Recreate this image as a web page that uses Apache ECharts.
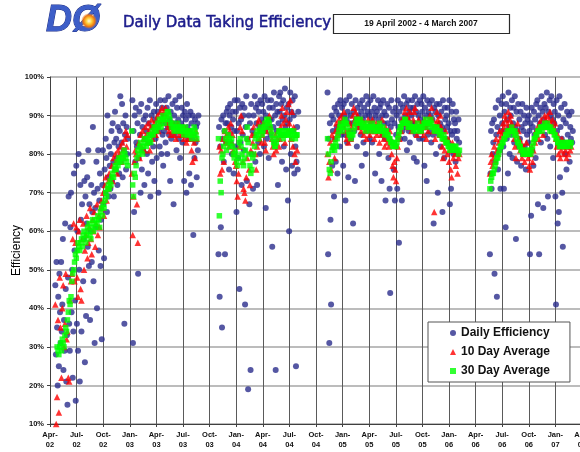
<!DOCTYPE html>
<html>
<head>
<meta charset="utf-8">
<script src="https://cdn.jsdelivr.net/npm/echarts@6/dist/echarts.min.js"></script>
<style>
html, body { margin: 0; padding: 0; background: #fff; }
#chart { width: 580px; height: 452px; }
</style>
</head>
<body>
<div id="chart"></div>
<script>
// Each run is stored as its first day plus samples taken every DAILY_STEP
// (daily efficiency) or AVG_STEP (running averages) days. null = no beam.
const DAILY_STEP = 2;
const AVG_STEP = 3;

const tickLabels = ['Apr-02','Jul-02','Oct-02','Jan-03','Apr-03','Jul-03','Oct-03','Jan-04','Apr-04','Jul-04',
  'Oct-04','Jan-05','Apr-05','Jul-05','Oct-05','Jan-06','Apr-06','Jul-06','Oct-06','Jan-07','Apr-07'];

const seriesNames = ['Daily Efficiency', '10 Day Average', '30 Day Average'];

// ---- Run 1: April 2002 - August 2003 ----
const run1Start = '2002-04-19';
const run1Daily = [
  46, 28, 52, 35, 20, 43,
  25, 49, 39, 31, 52, 34, 41, 58, 24, 37, 29, 62, 45, 21, 33,
  15, 48, 69, 36, 29, 61, 70, 39, 50, 22, 34, 75, 55, 42, 16,
  77, 36, 60, 29, 80, 50, 21, 72, 63, 34, 67, 78, 47, 58, 73,
  26, 69, 38, 62, 74, 56, 81, 51, 67, 37, 60, 72, 52, 65, 87,
  47, 70, 31, 66, 61, 78, 40, 71, 81, 55, 68, 75, 51, 63, 32,
  72, 81, 67, 53, 76, 70, 84, 79, 65, 90, 74, 69, 82, 77, 71,
  80, 86, 73, 88, 78, 69, 83, 91, 76, 84, 79, 72, 87, 82, 75,
  86, 95, 78, 83, 93, 74, 88, 81, 36, 85, 90, 76, 87, 80, 84,
  null, null, null, null, null, null, null, 94, 31, 86, 65, 90, 78, 92, 83,
  82, 88, 49, 79, 91, 85, 70, 93, 76, 87, 81, 89, 72, 84, 90,
  86, 80, 92, 75, 88, 83, 94, 69, 85, 90, 78, 87, 82, 91, 73,
  89, 84, 93, 79, 87, 91, 70, 86, 82, 94, 88, 80, 92, 85, 77,
  90, 86, 94, 83, 88, 92, 80, 87, 95, 85, 89, 73, 91, 84, 88,
  93, 87, 67, 90, 85, 94, 88, 81, 92, 86, 89, 84, 95, 79, 87,
  88, 92, 83, 90, 86, 73, 91, 85, 89, 70, 93, 87, 84, 90, 75,
  86, 91, 72, 88, 84, 90, 59, 85, 79, 89, 83, 87, 74, 88, 81, 90
];
const run1Avg10 = [
  41, 10, 17, 37,
  13, 48, 35, 22, 40, 46, 30, 36, 49, 32,
  34, 22, 21, 42, 47, 49, 58, 62, 47, 57,
  61, 48, 43, 60, 63, 45, 42, 58, 62, 50,
  55, 59, 64, 53, 57, 61, 66, 58, 54, 63,
  60, 65, 56, 62, 67, 59, 64, 61, 66, 68,
  66, 70, 64, 72, 74, 68, 71, 73, 75, 72,
  74, 77, 73, 79, 76, 80, 78, 75, 81, 79,
  80, 82, 78, 83, 81, 79, 84, 86, 82, 85,
  null, null, null, null, 75, 59, 69, 78, 81, 80,
  67, 57, 83, 79, 85, 82, 86, 84, 81, 87,
  85, 83, 88, 86, 81, 87, 89, 84, 86, 88,
  87, 85, 89, 90, 86, 88, 91, 89, 92, 90,
  91, 89, 92, 90, 88, 87, 86, 88, 85, 87,
  86, 88, 85, 87, 84, 86, 88, 87, 85, 86,
  87, 85, 86, 84, 87, 85, 83, 86, 84, 85,
  86, 84, 81, 78, 85, 83, 79, 86, 84
];
const run1Avg30 = [
  null, null, 30, 29,
  28, 30, 31, 29, 32, 31, 30, 33, 35, 34,
  37, 39, 42, 41, 43, 47, 49, 50, 52, 54,
  53, 55, 57, 56, 55, 57, 58, 56, 59, 60,
  58, 57, 59, 61, 60, 62, 59, 58, 61, 63,
  60, 62, 61, 63, 62, 64, 63, 61, 65, 66,
  64, 67, 66, 68, 70, 69, 71, 72, 71, 73,
  72, 74, 75, 74, 76, 77, 76, 78, 77, 79,
  78, 79, 78, 80, 79, 81, 80, 79, 78, 77,
  null, null, null, null, 86, 72, 69, 75, 74, 77,
  79, 81, 80, 82, 83, 81, 80, 82, 84, 83,
  82, 84, 83, 85, 84, 83, 85, 86, 85, 87,
  86, 87, 86, 88, 87, 89, 88, 87, 89, 90,
  89, 88, 89, 90, 91, 91, 90, 89, 88, 87,
  88, 87, 86, 87, 86, 87, 88, 87, 86, 87,
  86, 87, 86, 85, 86, 87, 86, 85, 86, 85,
  86, 85, 84, 86, 85, 87, 86, 85, 84
];

// ---- Run 2: November 2003 - August 2004 ----
const run2Start = '2003-11-01';
const run2Daily = [
  54, 87, 43, 82, 61, 89, 35, 84, 90, 78, 86, 54, 88, 83, 91,
  88, 92, 85, 76, 90, 93, 83, 87, 80, 91, 89, 75, 86, 94, 82,
  91, 65, 86, 94, 79, 88, 45, 92, 83, 89, 72, 93, 85, 90, 81,
  92, 41, 87, 95, 73, 84, 19, 90, 67, 88, 24, 93, 80, 86, 71,
  90, 85, 95, 78, 92, 88, 72, 93, 83, 91, 87, 80, 94, 86, 89,
  93, 88, 91, 82, 95, 86, 66, 90, 84, 94, 87, 79, 92, 89, 85,
  94, 89, 56, 92, 87, 96, 83, 90, 24, 93, 86, 91, 72, 88, 95,
  91, 96, 85, 93, 78, 89, 94, 82, 90, 97, 87, 76, 92, 88, 68,
  93, 60, 89, 96, 80, 91, 77, 94, 86, 90, 75, 95, 82, 25, 78,
  87, 76, 91
];
const run2Avg10 = [
  null, 82, 75, 81, 76, 84, 78, 86, 83, 85,
  84, 87, 82, 86, 88, 83, 85, 81, 80, 78,
  77, 73, 69, 75, 82, 87, 90, 86, 78, 71,
  70, 68, 74, 79, 84, 76, 72, 81, 85, 83,
  87, 85, 80, 76, 82, 88, 89, 84, 86, 83,
  85, 88, 87, 83, 81, 86, 89, 88, 90, 87,
  86, 84, 82, 80, 83, 85, 81, 84, 86, 82,
  84, 87, 90, 92, 88, 85, 83, 89, 91, 86,
  93, 88, 94, 84, 91, 82, 87, 80, 78, 85,
  81
];
const run2Avg30 = [
  84, 64, 73, 70, 79, 80, 82, 86, 84, 81,
  83, 85, 84, 82, 83, 84, 82, 80, 79, 81,
  80, 78, 77, 79, 83, 84, 82, 80, 78, 77,
  79, 81, 84, 87, 83, 80, 77, 75, 76, 79,
  80, 82, 84, 85, 86, 85, 84, 86, 87, 86,
  85, 86, 87, 88, 87, 89, 88, 89, 88, 87,
  86, 85, 84, 83, 82, 82, 83, 84, 85, 86,
  86, 85, 86, 85, 84, 85, 86, 85, 86, 85,
  85, 86, 85, 86, 84, 85, 86, 85, 84, 85,
  85
];

// ---- Run 3: November 2004 - February 2006 ----
const run3Start = '2004-11-10';
const run3Daily = [
  96, 54, 84, 31, 88, 63, 41, 90, 77, 86,
  89, 69, 92, 84, 78, 91, 87, 75, 93, 86, 90, 82, 94, 88, 85,
  92, 87, 77, 93, 90, 85, 68, 94, 89, 83, 91, 74, 88, 95, 86,
  90, 84, 93, 88, 62, 91, 86, 73, 94, 89, 82, 92, 87, 90,
  88, 93, 85, 91, 77, 94, 89, 83, 92, 87, 90, 80, 95, 86, 91,
  93, 87, 90, 84, 94, 88, 91, 83, 89, 95, 86, 92, 75, 90, 87,
  91, 86, 94, 89, 80, 92, 87, 93, 73, 90, 85, 94, 88, 91, 84,
  68, 90, 86, 93, 88, 79, 92, 71, 44, 87, 94, 89, 83, 91, 76,
  88, 68, 92, 85, 90, 71, 94, 87, 57, 91, 84, 93, 89, 68, 86,
  92, 88, 95, 84, 90, 87, 93, 81, 89, 94, 86, 91, 83, 92, 88,
  90, 94, 86, 92, 79, 88, 95, 85, 91, 78, 93, 87, 90, 84, 94,
  89, 86, 93, 91, 84, 95, 88, 77, 92, 87, 90, 73, 94, 85, 91,
  88, 93, 86, 90, 83, 94, 89, 85, 62, 92, 87, 91, 80, 93, 86,
  70, 90, 85, 93, 88, 82, 91, 87, 65, 94, 86, 79, 92, 89, 84,
  90, 87, 92, 83, 88, 94, 67, 86, 71, 91, 85, 93, 80, 89, 86,
  88, 78, 91, 84, 86, 80, 89, 83
];
const run3Avg10 = [
  80, 74, 78, 83, 76, 85, 82,
  84, 79, 86, 88, 85, 87, 89, 86, 88, 90,
  89, 87, 91, 88, 86, 84, 85, 83, 86, 88,
  84, 87, 90, 92, 89, 91, 88, 90, 87, 89,
  88, 86, 89, 87, 85, 88, 86, 84, 87, 89,
  87, 85, 88, 86, 89, 87, 84, 86, 88, 85,
  86, 88, 83, 87, 85, 89, 86, 84, 82, 87,
  85, 83, 84, 82, 86, 84, 80, 77, 74, 78,
  76, 73, 79, 82, 85, 84, 87, 86, 89, 88,
  88, 91, 89, 92, 90, 87, 89, 91, 88, 86,
  87, 89, 91, 92, 88, 85, 87, 89, 86, 88,
  86, 88, 87, 85, 89, 87, 84, 88, 86, 89,
  90, 88, 92, 89, 86, 65, 84, 88, 91, 89,
  88, 85, 90, 87, 82, 79, 84, 81, 86, 83,
  80, 84, 78, 81, 76, 74, 83, 79, 82, 80,
  77, 81, 75, 79, 80
];
const run3Avg30 = [
  84, 80, 76, 75, 78, 81, 82,
  82, 81, 83, 82, 84, 85, 86, 87, 88, 87,
  86, 87, 88, 89, 88, 88, 87, 86, 85, 85,
  84, 85, 85, 86, 87, 88, 89, 89, 88, 88,
  89, 88, 87, 87, 88, 87, 86, 87, 88, 87,
  87, 86, 87, 87, 88, 87, 86, 87, 86, 87,
  86, 87, 88, 87, 86, 86, 87, 86, 85, 86,
  86, 85, 85, 84, 84, 83, 83, 82, 82, 83,
  82, 82, 83, 84, 85, 86, 87, 87, 88, 88,
  88, 89, 89, 88, 88, 87, 87, 88, 87, 87,
  87, 86, 87, 87, 86, 87, 88, 87, 86, 87,
  86, 87, 87, 88, 88, 89, 88, 88, 87, 88,
  88, 89, 88, 87, 87, 86, 86, 87, 87, 86,
  86, 85, 86, 85, 84, 84, 85, 84, 83, 83,
  83, 82, 82, 81, 82, 82, 81, 82, 81, 82,
  82, 81, 81, 80, 81
];

// ---- Run 4: May 2006 - March 2007 ----
const run4Start = '2006-05-20';
const run4Daily = [
  54, 75, 86, 71, 88, 80,
  83, 89, 49, 78, 92, 85, 43, 87, 76, 94, 81, 90, 71, 86, 93,
  88, 95, 82, 71, 91, 86, 61, 93, 84, 89, 75, 96, 87, 80, 92,
  90, 85, 94, 79, 88, 92, 83, 95, 87, 58, 91, 78, 86, 93, 82,
  89, 84, 91, 77, 87, 93, 80, 86, 90, 82, 88, 76, 92, 85, 89,
  83, 90, 86, 54, 88, 64, 92, 81, 87, 77, 91, 85, 89, 79, 93,
  86, 94, 67, 90, 54, 88, 92, 83, 95, 87, 91, 66, 89, 93, 85,
  92, 88, 96, 84, 69, 91, 87, 94, 82, 90, 95, 86, 89, 79, 93,
  88, 91, 69, 41, 94, 86, 62, 90, 65, 95, 74, 87, 92, 84, 70,
  56, 89, 83, 93, 80, 88, 76, 91, 85, 82, 90, 78, 87, 84, 91, 83,
  86
];
const run4Avg10 = [
  75, 78, 80, 77,
  79, 82, 78, 84, 81, 80, 83, 86, 84, 85,
  86, 88, 87, 90, 89, 86, 88, 91, 87, 89,
  90, 88, 86, 87, 84, 82, 79, 85, 88, 86,
  84, 81, 83, 79, 80, 82, 78, 81, 83, 80,
  79, 77, 76, 80, 82, 78, 81, 84, 83, 86,
  85, 87, 84, 88, 86, 89, 87, 85, 88, 90,
  89, 88, 90, 87, 89, 91, 88, 86, 89, 87,
  86, 88, 84, 82, 85, 80, 83, 79, 81, 84,
  82, 80, 83, 81, 79, 82, 80, 83, 81, 82
];
const run4Avg30 = [
  71, 73, 74, 75,
  75, 76, 77, 78, 79, 79, 80, 81, 82, 82,
  83, 83, 84, 84, 85, 85, 86, 85, 86, 86,
  86, 87, 86, 86, 85, 86, 85, 84, 83, 83,
  82, 82, 81, 81, 80, 80, 81, 80, 80, 81,
  80, 80, 81, 80, 81, 82, 83, 84, 84, 85,
  85, 86, 86, 86, 87, 87, 86, 87, 87, 88,
  87, 87, 88, 87, 87, 86, 87, 86, 86, 86,
  85, 85, 84, 84, 83, 83, 82, 82, 82, 83,
  82, 83, 82, 82, 83, 82, 83, 83, 82, 83
];

// ---- helpers: dates -> months since 1 April 2002 (x-axis unit) ----
const DAY_MS = 86400000;
function monthsFromApr02(t) {
  const d = new Date(t);
  const y = d.getUTCFullYear(), m = d.getUTCMonth(), day = d.getUTCDate();
  const dim = new Date(Date.UTC(y, m + 1, 0)).getUTCDate();
  return (y - 2002) * 12 + (m - 3) + (day - 1) / dim;
}
function toPoints(start, values, step) {
  const t0 = Date.parse(start + 'T00:00:00Z');
  const pts = [];
  values.forEach(function (v, i) {
    if (v === null) return;
    pts.push([monthsFromApr02(t0 + i * step * DAY_MS), v]);
  });
  return pts;
}
function collect(list, step) {
  let out = [];
  list.forEach(function (r) { out = out.concat(toPoints(r[0], r[1], step)); });
  return out;
}

const dailyPts = collect([[run1Start, run1Daily], [run2Start, run2Daily], [run3Start, run3Daily], [run4Start, run4Daily]], DAILY_STEP);
const avg10Pts = collect([[run1Start, run1Avg10], [run2Start, run2Avg10], [run3Start, run3Avg10], [run4Start, run4Avg10]], AVG_STEP);
const avg30Pts = collect([[run1Start, run1Avg30], [run2Start, run2Avg30], [run3Start, run3Avg30], [run4Start, run4Avg30]], AVG_STEP);

const labelFont = '"Liberation Sans", Arial, sans-serif';

const chart = echarts.init(document.getElementById('chart'), null, { renderer: 'canvas' });
chart.setOption({
  animation: false,
  backgroundColor: '#ffffff',
  grid: { left: 50, top: 77, width: 532, height: 347, containLabel: false, outerBoundsMode: 'none' },
  xAxis: {
    type: 'value', min: 0, max: 60, interval: 3,
    axisLine: { lineStyle: { color: '#404040', width: 1 } },
    axisTick: { show: true, length: 3, lineStyle: { color: '#404040' } },
    splitLine: { show: true, lineStyle: { color: '#5a5a5a', width: 1 } },
    axisLabel: {
      margin: 6, color: '#111', fontFamily: labelFont, fontWeight: 'bold', fontSize: 7.5, lineHeight: 10,
      showMaxLabel: true, showMinLabel: true, hideOverlap: false,
      formatter: function (v) {
        const lab = tickLabels[Math.round(v / 3)] || '';
        return lab.replace('-', '-\n');
      }
    }
  },
  yAxis: {
    type: 'value', min: 10, max: 100, interval: 10,
    name: 'Efficiency', nameLocation: 'middle', nameGap: 27, nameMoveOverlap: false,
    nameTextStyle: { fontFamily: labelFont, fontSize: 12, color: '#000' },
    axisLine: { show: true, lineStyle: { color: '#404040', width: 1 } },
    axisTick: { show: true, length: 3, lineStyle: { color: '#404040' } },
    splitLine: { show: true, lineStyle: { color: '#a6a6a6', width: 1.5 } },
    axisLabel: {
      margin: 6, color: '#111', fontFamily: labelFont, fontWeight: 'bold', fontSize: 7.5,
      formatter: '{value}%'
    }
  },
  legend: {
    orient: 'vertical', left: 428, top: 322,
    padding: [4, 20, 4, 22], itemGap: 5, itemWidth: 6, itemHeight: 6,
    borderColor: '#555', borderWidth: 1, backgroundColor: '#ffffff',
    textStyle: { fontFamily: labelFont, fontWeight: 'bold', fontSize: 12, color: '#111', lineHeight: 14 },
    data: seriesNames
  },
  series: [
    {
      name: seriesNames[0], type: 'scatter', symbol: 'circle', symbolSize: 6, z: 2,
      itemStyle: { color: '#2b2d8c' }, data: dailyPts
    },
    {
      name: seriesNames[1], type: 'scatter', symbol: 'triangle', symbolSize: 6.5, z: 3,
      itemStyle: { color: '#ff0000' }, data: avg10Pts
    },
    {
      name: seriesNames[2], type: 'scatter', symbol: 'rect', symbolSize: 5.5, z: 4,
      itemStyle: { color: '#00ff00' }, data: avg30Pts
    }
  ],
  graphic: [
    // experiment logo
    {
      type: 'text', x: 46, y: 21, z: 10,
      style: {
        text: 'DØ', font: 'italic bold 36px "Liberation Sans", Arial, sans-serif',
        fill: '#3d5ec8', stroke: '#1f2f86', lineWidth: 1, verticalAlign: 'middle', align: 'left'
      }
    },
    {
      type: 'circle', z: 11, shape: { cx: 89, cy: 21, r: 8 },
      style: {
        fill: {
          type: 'radial', x: 0.5, y: 0.5, r: 0.5,
          colorStops: [
            { offset: 0, color: '#fffce0' }, { offset: 0.35, color: '#ffd23c' },
            { offset: 0.7, color: '#f07a10' }, { offset: 1, color: 'rgba(240,120,16,0)' }
          ]
        }
      }
    },
    {
      type: 'text', x: 123, y: 23, z: 10,
      style: {
        text: 'Daily Data Taking Efficiency', font: '15px "DejaVu Sans", sans-serif',
        fill: '#1c1c8c', stroke: '#1c1c8c', lineWidth: 0.5, verticalAlign: 'middle', align: 'left'
      }
    },
    {
      type: 'rect', z: 10, shape: { x: 333.5, y: 14.5, width: 176, height: 19 },
      style: { fill: '#ffffff', stroke: '#2a2a2a', lineWidth: 1.2 }
    },
    {
      type: 'text', x: 421, y: 24, z: 11,
      style: {
        text: '19 April 2002 - 4 March 2007', font: 'bold 8.5px "Liberation Sans", Arial, sans-serif',
        fill: '#111', verticalAlign: 'middle', align: 'center'
      }
    }
  ]
});
</script>
</body>
</html>
